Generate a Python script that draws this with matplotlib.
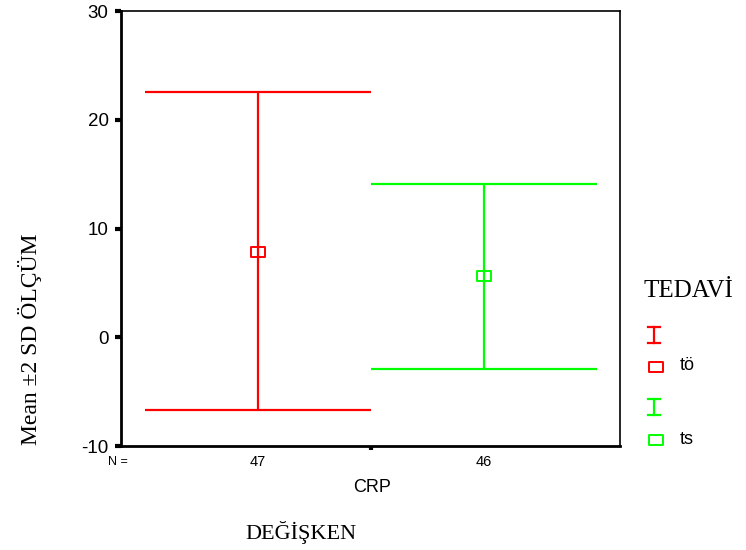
import numpy as np
import matplotlib
matplotlib.use("Agg")
import matplotlib.pyplot as plt
from matplotlib.path import Path

# data
groups = ["tö", "ts"]
counts = [47, 46]
means = [7.85, 5.63]
lower = [-6.7, -2.92]
upper = [22.55, 14.1]
colors = ["#ff0000", "#00ff00"]
xpos = [-0.5, 0.5]

plt.rcParams['font.family'] = ['Liberation Sans', 'DejaVu Sans']
serif = ['Liberation Serif', 'DejaVu Serif']

# flat rectangle marker like the SPSS one
rect = Path([(-1.3, -1), (1.3, -1), (1.3, 1), (-1.3, 1), (-1.3, -1)],
            [Path.MOVETO, Path.LINETO, Path.LINETO, Path.LINETO, Path.CLOSEPOLY])

fig = plt.figure(figsize=(7.46, 5.5), dpi=100)
ax = fig.add_axes([0.1622, 0.189, 0.669, 0.791])

for x, m, lo, hi, c in zip(xpos, means, lower, upper, colors):
    ax.vlines(x, lo, hi, color=c, lw=1.6)
    ax.hlines([lo, hi], x - 0.5, x + 0.5, color=c, lw=1.6)
    ax.plot(x, m, marker=rect, ms=9.5, mfc='none', mec=c, mew=1.4)

ax.set_xlim(-1.104, 1.104)
ax.set_ylim(-10, 30)
ax.set_yticks([-10, 0, 10, 20, 30])
ax.set_yticklabels(["-10", "0", "10", "20", "30"], fontsize=13.5)
ax.tick_params(axis='y', direction='out', length=4, width=3, pad=5)
ax.set_xticks([0])
ax.set_xticklabels([""])
ax.tick_params(axis='x', direction='out', length=3, width=3)
for s in ax.spines.values():
    s.set_linewidth(1.2)
ax.spines['left'].set_linewidth(2)
ax.spines['bottom'].set_linewidth(2)

# N counts under the axis
fig.text(118 / 746, 1 - 462 / 550, "N =", fontsize=9, ha='center', va='center')
for x, n in zip(xpos, counts):
    xf = ax.transData.transform((x, 0))[0] / fig.bbox.width
    fig.text(xf, 1 - 462 / 550, str(n), fontsize=10.5, ha='center', va='center')
fig.text(372 / 746, 1 - 487 / 550, "CRP", fontsize=13, ha='center', va='center')
fig.text(301 / 746, 1 - 532 / 550, "DEĞİŞKEN", fontsize=16, ha='center', va='center',
         family=serif)
fig.text(30 / 746, 1 - 339 / 550, "Mean ±2 SD ÖLÇÜM", fontsize=17, rotation=90,
         ha='center', va='center', family=serif)

# legend drawn by hand
fig.text(643 / 746, 1 - 291 / 550, "TEDAVİ", fontsize=18, ha='left', va='center',
         family=serif)
lx = 654 / 746
rows = [(335, 367), (407, 440)]
for (yi, ys), g, c in zip(rows, groups, colors):
    top, bot = 1 - (yi - 8) / 550, 1 - (yi + 8) / 550
    fig.lines.append(plt.Line2D([lx, lx], [top, bot],
                                transform=fig.transFigure, color=c, lw=1.6))
    for yy in (top, bot):
        fig.lines.append(plt.Line2D([lx - 6 / 746, lx + 6 / 746], [yy, yy],
                                    transform=fig.transFigure, color=c, lw=1.6))
    fig.lines.append(plt.Line2D([656 / 746], [1 - ys / 550], transform=fig.transFigure,
                                marker=rect, ms=9.5, mfc='none', mec=c, mew=1.4, ls='none'))
    fig.text(680 / 746, 1 - (ys - 1) / 550, g, fontsize=13, ha='left', va='center')

fig.savefig("out.png", dpi=100)
